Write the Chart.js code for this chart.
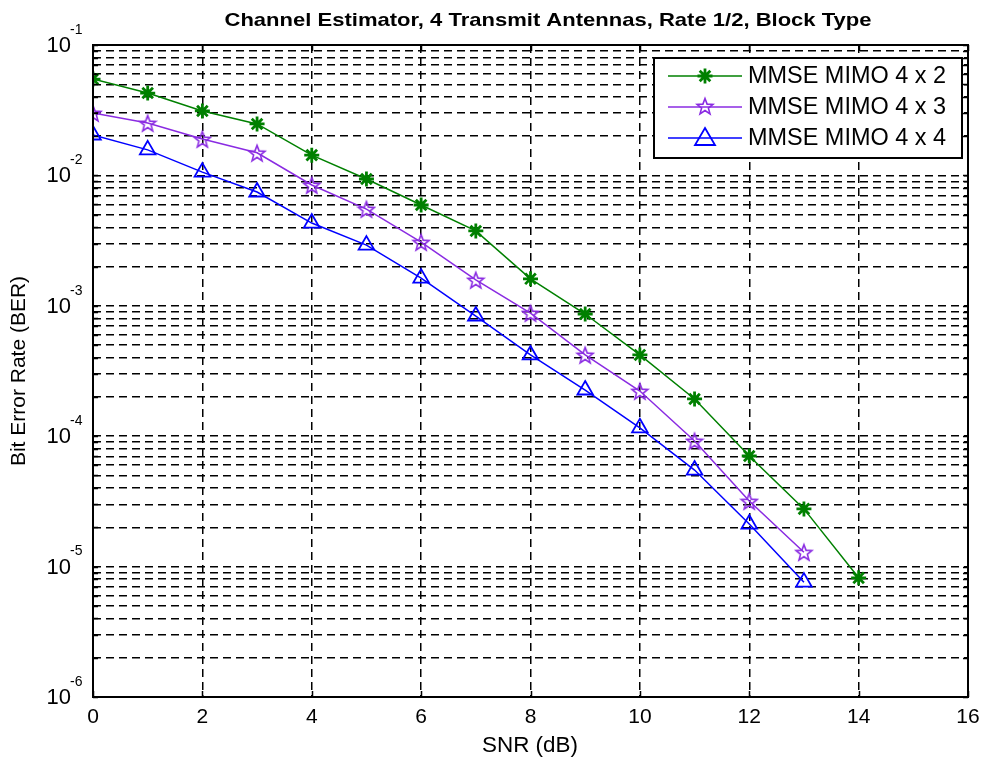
<!DOCTYPE html>
<html>
<head>
<meta charset="utf-8">
<script src="https://cdn.jsdelivr.net/npm/chart.js@4.4.1/dist/chart.umd.min.js"></script>
<style>
html,body{margin:0;padding:0;background:#fff;}
#wrap{width:987px;height:758px;position:relative;}
</style>
</head>
<body>
<div id="wrap"><canvas id="c" width="987" height="758"></canvas></div>
<script>
// ---- Data ----
const snr = [0,1,2,3,4,5,6,7,8,9,10,11,12,13,14];
const berMimo4x2 = [0.0548,0.0428,0.0312,0.0248,0.0143,0.00938,0.00593,0.00375,0.00161,0.000865,0.00042,0.000193,0.0000705,0.0000277,0.0000082];
const berMimo4x3 = [0.0301,0.0252,0.0190,0.0149,0.00844,0.00552,0.00308,0.00158,0.00088,0.00042,0.000222,0.000092,0.0000318,0.0000129];
const berMimo4x4 = [0.0204,0.0157,0.0106,0.00746,0.00431,0.00292,0.00163,0.000835,0.00042,0.000226,0.000116,0.000055,0.0000212,0.0000076];
const seriesNames = ['MMSE MIMO 4 x 2','MMSE MIMO 4 x 3','MMSE MIMO 4 x 4'];
const xTickValues = [0,2,4,6,8,10,12,14,16];
const yDecadeExponents = [-6,-5,-4,-3,-2,-1];
const titleText = 'Channel Estimator, 4 Transmit Antennas, Rate 1/2, Block Type';
const xTitle = 'SNR (dB)';
const yTitle = 'Bit Error Rate (BER)';

const FONT = '"Liberation Sans", Arial, sans-serif';
const colors = ['#008000', '#8a2be2', '#0000ff'];

// pentagram marker
function makePentagram(color, size) {
  const c = document.createElement('canvas');
  c.width = size; c.height = size;
  const g = c.getContext('2d');
  const cx = size/2, cy = size/2 + 1, R = size/2 - 1.5, r = R*0.42;
  g.beginPath();
  for (let i = 0; i < 10; i++) {
    const rad = (i % 2 === 0) ? R : r;
    const a = -Math.PI/2 + i*Math.PI/5;
    const px = cx + rad*Math.cos(a), py = cy + rad*Math.sin(a);
    if (i === 0) g.moveTo(px, py); else g.lineTo(px, py);
  }
  g.closePath();
  g.strokeStyle = color; g.lineWidth = 1.6; g.stroke();
  return c;
}
const starImg = makePentagram(colors[1], 20);

function pts(ys) { return ys.map((v,i)=>({x:snr[i], y:v})); }

// y ticks: 1..9 x 10^n
const yTicks = [];
yDecadeExponents.forEach((e, idx) => {
  const maxM = (idx === yDecadeExponents.length-1) ? 1 : 9;
  for (let m = 1; m <= maxM; m++) yTicks.push(m*Math.pow(10,e));
});

function drawFitText(ctx, text, x, y, font, align, width) {
  ctx.save();
  ctx.font = font;
  const w = ctx.measureText(text).width;
  const s = width ? width / w : 1;
  ctx.translate(x, y);
  ctx.scale(s, 1);
  ctx.textAlign = align;
  ctx.fillText(text, 0, 0);
  ctx.restore();
}

const deco = {
  id: 'deco',
  afterDraw(chart) {
    const ctx = chart.ctx, a = chart.chartArea;
    const xs = chart.scales.x, ys = chart.scales.y;
    ctx.save();
    ctx.fillStyle = '#000';
    ctx.strokeStyle = '#000';
    // tick marks
    ctx.lineWidth = 1.5;
    ctx.beginPath();
    yTicks.forEach(v => {
      const py = Math.round(ys.getPixelForValue(v)) + 0.5;
      const len = 5;
      ctx.moveTo(a.left, py); ctx.lineTo(a.left+len, py);
      ctx.moveTo(a.right, py); ctx.lineTo(a.right-len, py);
    });
    xTickValues.forEach(v => {
      const px = Math.round(xs.getPixelForValue(v)) + 0.5;
      ctx.moveTo(px, a.bottom); ctx.lineTo(px, a.bottom-6);
      ctx.moveTo(px, a.top); ctx.lineTo(px, a.top+6);
    });
    ctx.stroke();
    // frame
    ctx.lineWidth = 2;
    ctx.strokeRect(a.left, a.top, a.right-a.left, a.bottom-a.top);

    // x tick labels
    ctx.textBaseline = 'middle';
    xTickValues.forEach(v => {
      const px = xs.getPixelForValue(v);
      drawFitText(ctx, String(v), px, 717, '21px ' + FONT, 'center');
    });
    // y tick labels
    yDecadeExponents.forEach(e => {
      const py = ys.getPixelForValue(Math.pow(10,e));
      drawFitText(ctx, '10', 71, py + 1, '22px ' + FONT, 'right');
      drawFitText(ctx, String(e), 70, py - 15, '14px ' + FONT, 'left');
    });
    // titles
    ctx.textBaseline = 'alphabetic';
    drawFitText(ctx, titleText, 548, 26, 'bold 19px ' + FONT, 'center', 647);
    drawFitText(ctx, xTitle, 530, 752, '22px ' + FONT, 'center', 96);
    ctx.save();
    ctx.translate(25, 371);
    ctx.rotate(-Math.PI/2);
    drawFitText(ctx, yTitle, 0, 0, '21px ' + FONT, 'center');
    ctx.restore();

    // legend
    const lx = 654, ly = 58, lw = 308, lh = 100;
    ctx.fillStyle = '#fff';
    ctx.fillRect(lx, ly, lw, lh);
    ctx.lineWidth = 2;
    ctx.strokeStyle = '#000';
    ctx.strokeRect(lx, ly, lw, lh);
    const rows = [76, 107, 138];
    chart.data.datasets.forEach((ds, i) => {
      const y = rows[i];
      ctx.strokeStyle = ds.borderColor;
      ctx.lineWidth = 1.5;
      ctx.beginPath(); ctx.moveTo(668, y); ctx.lineTo(742, y); ctx.stroke();
      const mx = 705;
      if (i === 0) {
        ctx.lineWidth = 2.8;
        const r = 7.5;
        ctx.beginPath();
        ctx.moveTo(mx-r, y); ctx.lineTo(mx+r, y);
        ctx.moveTo(mx, y-r); ctx.lineTo(mx, y+r);
        const d = r*0.707;
        ctx.moveTo(mx-d, y-d); ctx.lineTo(mx+d, y+d);
        ctx.moveTo(mx-d, y+d); ctx.lineTo(mx+d, y-d);
        ctx.stroke();
      } else if (i === 1) {
        ctx.drawImage(starImg, mx-10, y-11);
      } else {
        ctx.lineWidth = 1.8;
        ctx.beginPath();
        ctx.moveTo(mx, y-10); ctx.lineTo(mx+10, y+7); ctx.lineTo(mx-10, y+7); ctx.closePath();
        ctx.stroke();
      }
      ctx.fillStyle = '#000';
      ctx.textBaseline = 'middle';
      drawFitText(ctx, ds.label, 748, y + 1, '23px ' + FONT, 'left', 198);
    });
    ctx.restore();
  }
};

new Chart(document.getElementById('c'), {
  type: 'line',
  data: {
    datasets: [
      { label: seriesNames[0], data: pts(berMimo4x2), borderColor: colors[0], backgroundColor: colors[0],
        borderWidth: 1.5, pointStyle: 'star', pointRadius: 7.5, pointBorderWidth: 2.8, pointHoverRadius: 7.5 },
      { label: seriesNames[1], data: pts(berMimo4x3), borderColor: colors[1], backgroundColor: colors[1],
        borderWidth: 1.5, pointStyle: starImg, pointRadius: 9 },
      { label: seriesNames[2], data: pts(berMimo4x4), borderColor: colors[2], backgroundColor: 'rgba(0,0,0,0)',
        borderWidth: 1.5, pointStyle: 'triangle', pointRadius: 9, pointBorderWidth: 1.8 }
    ]
  },
  options: {
    responsive: false,
    animation: false,
    events: [],
    layout: { padding: { left: 93, right: 19, top: 45, bottom: 61 } },
    plugins: { legend: { display: false }, tooltip: { enabled: false }, title: { display: false } },
    scales: {
      x: {
        type: 'linear', min: 0, max: 16,
        afterBuildTicks: s => { s.ticks = xTickValues.map(v => ({ value: v })); },
        ticks: { display: false },
        grid: { color: '#000', lineWidth: 1.5, drawTicks: false },
        border: { display: false, dash: [8, 5] }
      },
      y: {
        type: 'logarithmic', min: 1e-6, max: 1e-1,
        afterBuildTicks: s => { s.ticks = yTicks.map(v => ({ value: v })); },
        ticks: { display: false },
        grid: { color: '#000', lineWidth: 1.5, drawTicks: false },
        border: { display: false, dash: [8, 5] }
      }
    }
  },
  plugins: [deco]
});
</script>
</body>
</html>
